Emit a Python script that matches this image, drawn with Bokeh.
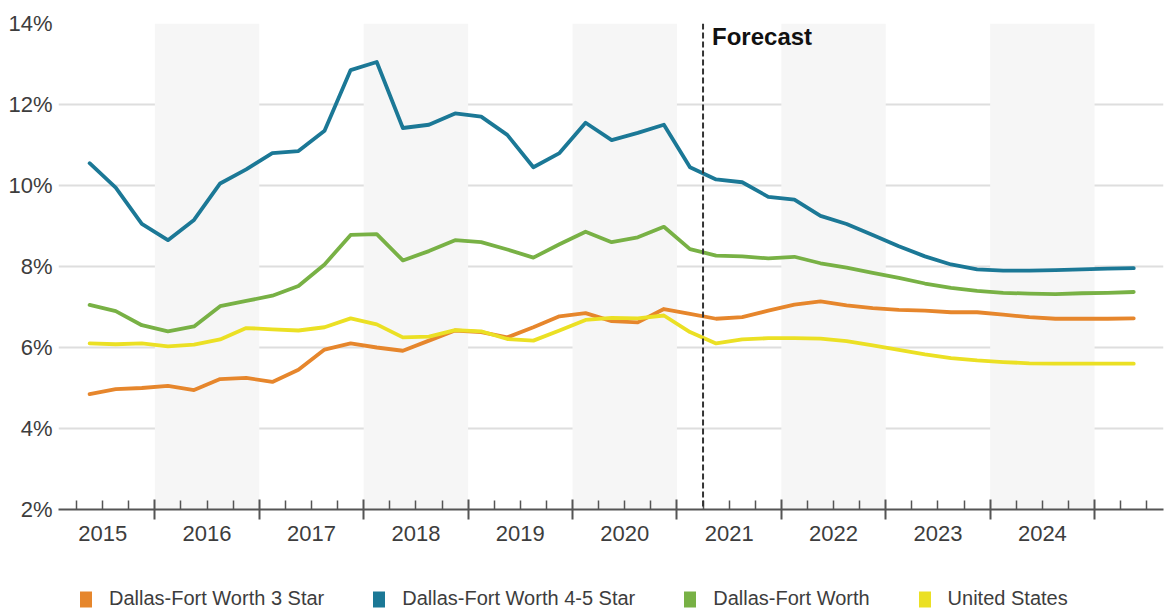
from bokeh.plotting import figure
from bokeh.layouts import column
from bokeh.models import (Range1d, FixedTicker, LinearAxis, PrintfTickFormatter, Span,
                          Label, Legend, LegendItem)
from bokeh.embed import file_html
from bokeh.resources import INLINE

# Quarterly vacancy rates, 2015 Q2 through 2025 Q2 (forecast from 2021 Q2 onward)
quarters = [(y, q) for y in range(2015, 2026) for q in range(1, 5)][1:42]

dfw_3_star = [4.85, 4.97, 5.00, 5.05, 4.95, 5.22, 5.25, 5.15, 5.45, 5.95, 6.10, 6.00,
              5.92, 6.17, 6.42, 6.38, 6.25, 6.50, 6.77, 6.85, 6.65, 6.62, 6.95, 6.83,
              6.71, 6.75, 6.91, 7.06, 7.14, 7.04, 6.97, 6.93, 6.91, 6.87, 6.87, 6.81,
              6.75, 6.71, 6.71, 6.71, 6.72]
dfw_45_star = [10.55, 9.95, 9.05, 8.65, 9.15, 10.05, 10.40, 10.80, 10.85, 11.35, 12.85, 13.05,
               11.42, 11.50, 11.78, 11.70, 11.25, 10.45, 10.80, 11.55, 11.12, 11.30, 11.50, 10.45,
               10.15, 10.08, 9.72, 9.65, 9.25, 9.05, 8.78, 8.50, 8.25, 8.05, 7.93, 7.90,
               7.90, 7.91, 7.93, 7.95, 7.96]
dfw_all = [7.05, 6.90, 6.55, 6.40, 6.52, 7.02, 7.15, 7.28, 7.52, 8.05, 8.78, 8.80,
           8.15, 8.38, 8.65, 8.60, 8.42, 8.22, 8.55, 8.86, 8.60, 8.72, 8.98, 8.43,
           8.27, 8.25, 8.20, 8.24, 8.08, 7.97, 7.84, 7.72, 7.58, 7.47, 7.40, 7.35,
           7.33, 7.32, 7.34, 7.35, 7.37]
united_states = [6.10, 6.08, 6.10, 6.03, 6.07, 6.20, 6.48, 6.45, 6.42, 6.50, 6.72, 6.57,
                 6.25, 6.27, 6.43, 6.40, 6.21, 6.17, 6.42, 6.68, 6.73, 6.72, 6.79, 6.38,
                 6.10, 6.20, 6.23, 6.23, 6.22, 6.16, 6.05, 5.94, 5.83, 5.74, 5.68, 5.64,
                 5.61, 5.60, 5.60, 5.60, 5.60]

series_names = ["Dallas-Fort Worth 3 Star", "Dallas-Fort Worth 4-5 Star",
                "Dallas-Fort Worth", "United States"]
series_values = [dfw_3_star, dfw_45_star, dfw_all, united_states]
series_colors = ["#e6862c", "#1b7896", "#78b145", "#ebe024"]

years = list(range(2015, 2025))
shaded_years = [2016, 2018, 2020, 2022, 2024]
y_ticks = [2, 4, 6, 8, 10, 12, 14]
forecast_start = 2021.25

# each quarter is plotted at the middle of its quarter on a continuous year scale
x = [y + (q - 0.5) / 4 for y, q in quarters]

FONT = "Liberation Sans"
TEXT = "#3d3d3d"

p = figure(width=1172, height=560,
           x_range=Range1d(2015.077, 2025.66), y_range=Range1d(2, 14),
           output_backend="svg", toolbar_location=None,
           min_border_left=58, min_border_right=9, min_border_top=23, min_border_bottom=51,
           outline_line_color=None, background_fill_color="white")

# alternating year bands
p.quad(left=shaded_years, right=[y + 1 for y in shaded_years],
       bottom=2, top=14, fill_color="#f6f6f6", line_color=None)

# grid
p.xgrid.visible = False
p.ygrid.ticker = FixedTicker(ticks=y_ticks)
p.ygrid.grid_line_color = "#dedede"
p.ygrid.grid_line_width = 2

# y axis: labels only
p.yaxis.ticker = FixedTicker(ticks=y_ticks)
p.yaxis.formatter = PrintfTickFormatter(format="%d%%")
p.yaxis.axis_line_color = None
p.yaxis.major_tick_line_color = None
p.yaxis.minor_tick_line_color = None
p.yaxis.major_tick_in = 0
p.yaxis.major_tick_out = 0
p.yaxis.major_label_standoff = 6
p.yaxis.major_label_text_font = FONT
p.yaxis.major_label_text_font_size = "22px"
p.yaxis.major_label_text_color = TEXT

# x axis: year boundary ticks crossing the line, quarter ticks inside
year_bounds = [y + 1 for y in years]
quarter_bounds = [y + k / 4 for y in years + [2025] for k in (1, 2, 3)]
xa = p.xaxis[0]
xa.ticker = FixedTicker(ticks=year_bounds, minor_ticks=quarter_bounds)
xa.axis_line_color = "#555555"
xa.axis_line_width = 2
xa.major_tick_line_color = "#555555"
xa.major_tick_line_width = 2
xa.major_tick_in = 10
xa.major_tick_out = 10
xa.minor_tick_line_color = "#555555"
xa.minor_tick_line_width = 1.5
xa.minor_tick_in = 9
xa.minor_tick_out = 0
xa.major_label_overrides = {b: "" for b in year_bounds}
xa.major_label_text_font_size = "0px"
xa.major_label_standoff = 0

# year labels centred in each year
year_axis = LinearAxis(ticker=FixedTicker(ticks=[y + 0.5 for y in years]),
                       major_label_overrides={y + 0.5: str(y) for y in years},
                       axis_line_color=None, major_tick_line_color=None,
                       minor_tick_line_color=None, major_tick_in=0, major_tick_out=0,
                       major_label_standoff=6, major_label_text_font=FONT,
                       major_label_text_font_size="22px", major_label_text_color=TEXT)
p.add_layout(year_axis, "below")

# series
for name, vals, color in zip(series_names, series_values, series_colors):
    p.line(x, vals, line_color=color, line_width=3.8, line_join="round", line_cap="round")

# forecast marker
p.add_layout(Span(location=forecast_start, dimension="height", line_color="#333333",
                  line_width=2, line_dash="6 3"))
p.add_layout(Label(x=forecast_start, y=14, x_offset=9, y_offset=1, text="Forecast",
                   text_font=FONT, text_font_size="24px", text_font_style="bold",
                   text_color="#111111", text_baseline="top"))

# legend strip with square swatches (zero-size quads only carry the swatch colour)
lg = figure(width=1172, height=54, x_range=Range1d(0, 1), y_range=Range1d(0, 1),
            output_backend="svg", toolbar_location=None, min_border=0,
            outline_line_color=None, x_axis_type=None, y_axis_type=None)
lg.grid.visible = False
items = []
for name, color in zip(series_names, series_colors):
    swatch = lg.quad(left=[0], right=[0], bottom=[0], top=[0],
                     fill_color=color, line_color=None)
    items.append(LegendItem(label=name, renderers=[swatch]))
legend = Legend(items=items, orientation="horizontal", location=(20, 4),
                glyph_width=15, glyph_height=20, label_standoff=16, spacing=47,
                padding=0, margin=0, border_line_color=None, background_fill_alpha=0,
                label_text_font=FONT, label_text_font_size="20px", label_text_color=TEXT)
lg.add_layout(legend)

open("out.html", "w").write(file_html(column(p, lg, spacing=0), INLINE))
